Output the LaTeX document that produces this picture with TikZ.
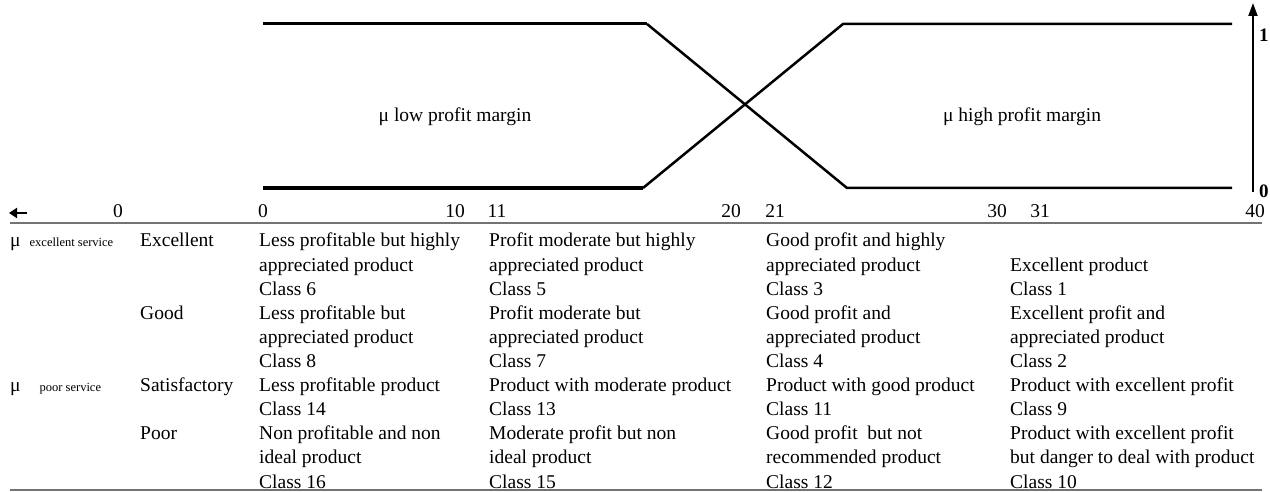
\documentclass[tikz,border=0pt]{standalone}
\usepackage{fontspec}
\setmainfont{Liberation Serif}
\usetikzlibrary{arrows.meta}

\tikzset{
  txt/.style={font=\fontsize{19.5}{24}\selectfont, inner sep=0pt},
  cell/.style={txt, anchor=base west},
  small/.style={font=\fontsize{12.5}{14}\selectfont},
  mf/.style={line width=2.5pt, line join=miter},
  rule/.style={draw=black!55, line width=2pt},
  axlabel/.style={txt, anchor=base west, font=\bfseries\fontsize{19}{22}\selectfont},
}
% one cell of the table: name, x, first line, lines
\newcommand{\tabcell}[4]{%
  \foreach \t [count=\i from #3] in {#4}{
    \node[cell] (#1-\i) at (#2,{247+24.1*\i}) {\t};
  }}

\begin{document}
\begin{tikzpicture}[x=1pt,y=-1pt]
  \useasboundingbox (0,0) rectangle (1270,492);
  % membership functions
  \draw[mf] (647,24) -- (847,188) -- (1232,188);
  \draw[mf] (643,188) -- (843,24) -- (1232,24);
  \draw[line width=3pt] (263,24) -- (647,24);
  \draw[line width=3.5pt] (263,188) -- (643,188);
  \node[txt] (low) at (455,117) {μ low profit margin};
  \node[txt] (high) at (1022,117) {μ high profit margin};
  % membership axis
  \coordinate (ax0) at (1253,192);
  \coordinate (ax1) at (1253,3);
  \draw[line width=2pt,-{Triangle[length=13pt,width=9pt]}] (ax0) -- (ax1);
  \node[axlabel] (one) at (1259,42) {1};
  \node[axlabel] (zero) at (1259,197) {0};
  % profit axis
  \coordinate (la0) at (27,213);
  \coordinate (la1) at (9,213);
  \draw[line width=2.5pt,-{Triangle[length=8pt,width=10pt]}] (la0) -- (la1);
  \foreach \x/\v [count=\n] in {118/0,263/0,455/10,497/11,731/20,775/21,997/30,1040/31,1255/40}
    \node[txt, anchor=base] (num\n) at (\x,218) {\v};
  \draw[rule] (10,223) -- (1262,223);
  \draw[rule] (10,490) -- (1262,490);
  % service rows
  \node[cell] (muex) at (10,247) {μ\hspace{9pt}{\fontsize{12.5}{14}\selectfont excellent service}};
  \node[cell] (mupo) at (10,{247+24.1*6}) {μ\hspace{19pt}{\fontsize{12.5}{14}\selectfont poor service}};
  \node[cell] (exc) at (140,247) {Excellent};
  \node[cell] (good) at (140,{247+24.1*3}) {Good};
  \node[cell] (sat) at (140,{247+24.1*6}) {Satisfactory};
  \node[cell] (poor) at (140,{247+24.1*8}) {Poor};
  % classes
  \tabcell{a}{259}{0}{Less profitable but highly,appreciated product,Class 6}
  \tabcell{b}{489}{0}{Profit moderate but highly,appreciated product,Class 5}
  \tabcell{c}{766}{0}{Good profit and highly,appreciated product,Class 3}
  \tabcell{d}{1010}{1}{Excellent product,Class 1}
  \tabcell{e}{259}{3}{Less profitable but,appreciated product,Class 8}
  \tabcell{f}{489}{3}{Profit moderate but,appreciated product,Class 7}
  \tabcell{g}{766}{3}{Good profit and,appreciated product,Class 4}
  \tabcell{h}{1010}{3}{Excellent profit and,appreciated product,Class 2}
  \tabcell{i}{259}{6}{Less profitable product,Class 14}
  \tabcell{j}{489}{6}{Product with moderate product,Class 13}
  \tabcell{k}{766}{6}{Product with good product,Class 11}
  \tabcell{l}{1010}{6}{Product with excellent profit,Class 9}
  \tabcell{m}{259}{8}{Non profitable and non,ideal product,Class 16}
  \tabcell{n}{489}{8}{Moderate profit but non,ideal product,Class 15}
  \tabcell{o}{766}{8}{Good profit\ \ but not,recommended product,Class 12}
  \tabcell{p}{1010}{8}{Product with excellent profit,but danger to deal with product,Class 10}
\end{tikzpicture}
\end{document}
